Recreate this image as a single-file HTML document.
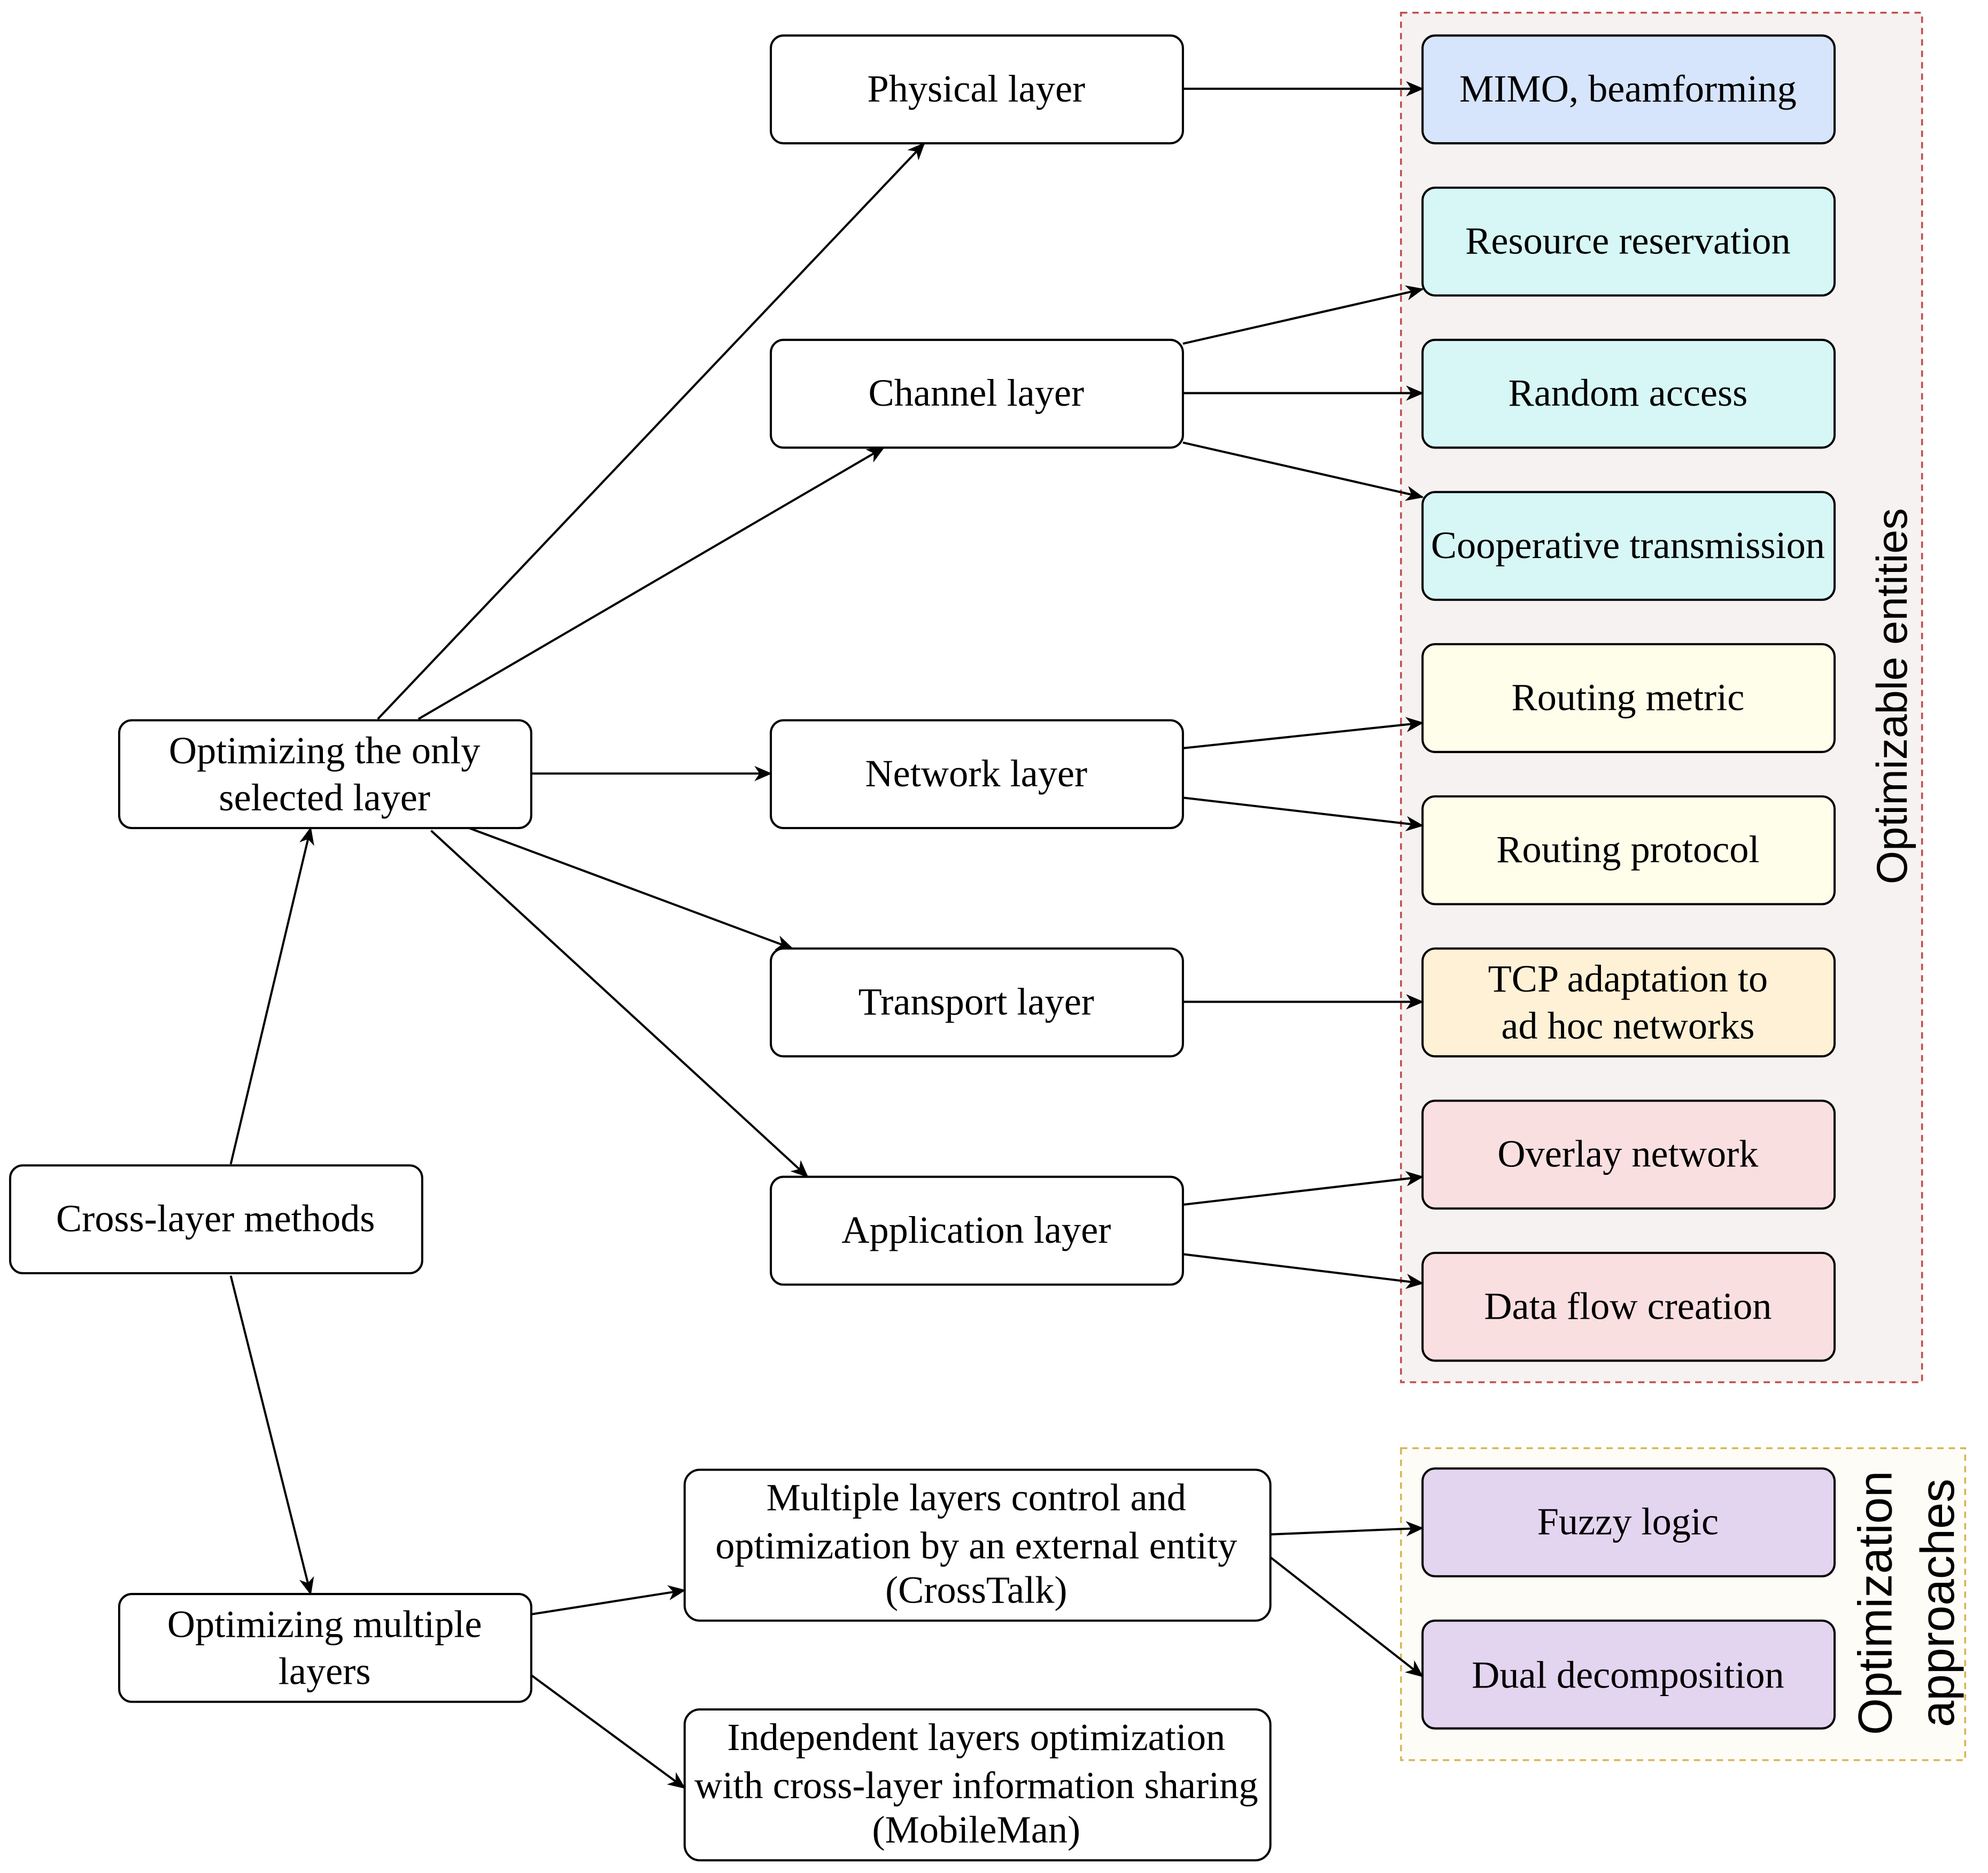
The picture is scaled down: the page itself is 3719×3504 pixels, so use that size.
<!DOCTYPE html>
<html><head><meta charset="utf-8"><style>html,body{margin:0;padding:0;background:#fff}svg{display:block}</style></head>
<body>
<svg xmlns="http://www.w3.org/2000/svg" width="3719" height="3504" viewBox="0 0 1568 1477" preserveAspectRatio="none">
<defs>
<marker id="a" markerWidth="14" markerHeight="12" refX="13" refY="6" orient="auto" markerUnits="userSpaceOnUse" viewBox="0 0 14 12">
<path d="M0,0 L14,6 L0,12 L4,6 Z" fill="#000"/>
</marker>
</defs>
<rect x="1105" y="10" width="411" height="1080" fill="#f6f2f1" stroke="#c0504d" stroke-width="1.5" stroke-dasharray="5,4"/>
<rect x="1105" y="1142" width="445" height="246" fill="#fdfcf6" stroke="#d6b656" stroke-width="1.5" stroke-dasharray="5,4"/>
<g stroke="#000" stroke-width="1.7" fill="#fff">
<rect x="608" y="28" width="325" height="85" rx="10"/>
<rect x="608" y="268" width="325" height="85" rx="10"/>
<rect x="608" y="568" width="325" height="85" rx="10"/>
<rect x="608" y="748" width="325" height="85" rx="10"/>
<rect x="608" y="928" width="325" height="85" rx="10"/>
<rect x="94" y="568" width="325" height="85" rx="10"/>
<rect x="8" y="919" width="325" height="85" rx="10"/>
<rect x="94" y="1257" width="325" height="85" rx="10"/>
<rect x="540" y="1159" width="462" height="119" rx="12"/>
<rect x="540" y="1348" width="462" height="119" rx="12"/>
<rect x="1122" y="28" width="325" height="85" rx="10" fill="#d6e4fc"/>
<rect x="1122" y="148" width="325" height="85" rx="10" fill="#d6f7f6"/>
<rect x="1122" y="268" width="325" height="85" rx="10" fill="#d6f7f6"/>
<rect x="1122" y="388" width="325" height="85" rx="10" fill="#d6f7f6"/>
<rect x="1122" y="508" width="325" height="85" rx="10" fill="#fffeea"/>
<rect x="1122" y="628" width="325" height="85" rx="10" fill="#fffeea"/>
<rect x="1122" y="748" width="325" height="85" rx="10" fill="#fff1d6"/>
<rect x="1122" y="868" width="325" height="85" rx="10" fill="#fadfe1"/>
<rect x="1122" y="988" width="325" height="85" rx="10" fill="#fadfe1"/>
<rect x="1122" y="1158" width="325" height="85" rx="10" fill="#e3d4ef"/>
<rect x="1122" y="1278" width="325" height="85" rx="10" fill="#e3d4ef"/>
</g>
<g stroke="#000" stroke-width="1.7" fill="none" marker-end="url(#a)">
<line x1="933" y1="70" x2="1122" y2="70"/>
<line x1="933" y1="271" x2="1122" y2="228"/>
<line x1="933" y1="310" x2="1122" y2="310"/>
<line x1="933" y1="349" x2="1122" y2="392"/>
<line x1="298" y1="567" x2="729" y2="113"/>
<line x1="330" y1="567" x2="697" y2="353"/>
<line x1="419" y1="610" x2="608" y2="610"/>
<line x1="370" y1="653" x2="625" y2="748"/>
<line x1="340" y1="655" x2="637" y2="928"/>
<line x1="933" y1="590" x2="1122" y2="570"/>
<line x1="933" y1="629" x2="1122" y2="651"/>
<line x1="933" y1="790" x2="1122" y2="790"/>
<line x1="933" y1="950" x2="1122" y2="928"/>
<line x1="933" y1="989" x2="1122" y2="1012"/>
<line x1="182" y1="918" x2="245" y2="653"/>
<line x1="182" y1="1006" x2="245" y2="1257"/>
<line x1="419" y1="1273" x2="540" y2="1254"/>
<line x1="419" y1="1321" x2="540" y2="1410"/>
<line x1="1002" y1="1210" x2="1122" y2="1205"/>
<line x1="1002" y1="1228" x2="1122" y2="1322"/>
</g>
<g font-family="Liberation Serif, serif" font-size="30.5" text-anchor="middle" fill="#000">
<text x="770" y="80">Physical layer</text>
<text x="770" y="320">Channel layer</text>
<text x="770" y="620">Network layer</text>
<text x="770" y="800">Transport layer</text>
<text x="770" y="980">Application layer</text>
<text x="256" y="602">Optimizing the only</text>
<text x="256" y="639">selected layer</text>
<text x="170" y="971">Cross-layer methods</text>
<text x="256" y="1291">Optimizing multiple</text>
<text x="256" y="1328">layers</text>
<text x="770" y="1191">Multiple layers control and</text>
<text x="770" y="1229">optimization by an external entity</text>
<text x="770" y="1264">(CrossTalk)</text>
<text x="770" y="1380">Independent layers optimization</text>
<text x="770" y="1418">with cross-layer information sharing</text>
<text x="770" y="1453">(MobileMan)</text>
<text x="1284" y="80">MIMO, beamforming</text>
<text x="1284" y="200">Resource reservation</text>
<text x="1284" y="320">Random access</text>
<text x="1284" y="440">Cooperative transmission</text>
<text x="1284" y="560">Routing metric</text>
<text x="1284" y="680">Routing protocol</text>
<text x="1284" y="782">TCP adaptation to</text>
<text x="1284" y="819">ad hoc networks</text>
<text x="1284" y="920">Overlay network</text>
<text x="1284" y="1040">Data flow creation</text>
<text x="1284" y="1210">Fuzzy logic</text>
<text x="1284" y="1331">Dual decomposition</text>
</g>
<g font-family="Liberation Sans, sans-serif" text-anchor="middle" fill="#000">
<text transform="translate(1504,549) rotate(-90)" font-size="34">Optimizable entities</text>
<text transform="translate(1492,1264) rotate(-90)" font-size="37.5">Optimization</text>
<text transform="translate(1541,1264) rotate(-90)" font-size="37.5">approaches</text>
</g>
</svg>
</body></html>
